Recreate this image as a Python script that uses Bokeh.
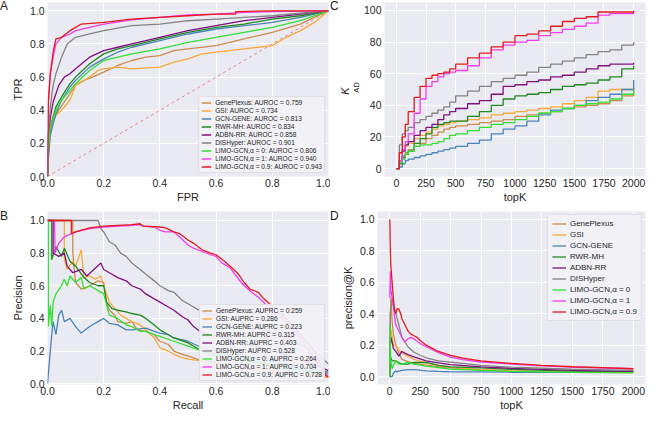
from bokeh.plotting import figure
from bokeh.layouts import column, row
from bokeh.models import FixedTicker, PrintfTickFormatter, Title, Div
from bokeh.embed import file_html
from bokeh.resources import INLINE

FONT = "Liberation Sans"
NBSP = "\u00a0"

methods = ["GenePlexus", "GSI", "GCN-GENE", "RWR-MH", "ADBN-RR", "DISHyper",
           "LIMO-GCN,α = 0", "LIMO-GCN,α = 1", "LIMO-GCN,α = 0.9"]
colors = ["#cd8a4c", "#f7a93a", "#4a84b8", "#1f8a1f", "#80107f", "#838383",
          "#33e033", "#f03cf0", "#e41a1c"]
auroc = ["0.759", "0.734", "0.813", "0.834", "0.858", "0.901", "0.806", "0.940", "0.943"]
auprc = ["0.259", "0.286", "0.223", "0.315", "0.403", "0.528", "0.264", "0.704", "0.728"]
panel_letters = ["A", "B", "C", "D"]

# ---------------- Panel A: ROC ----------------
roc_fpr_geneplexus = [0, 0.002, 0.01, 0.02, 0.04, 0.06, 0.08, 0.1, 0.13, 0.16, 0.2, 0.25, 0.3, 0.35, 0.4, 0.45, 0.5, 0.6, 0.7, 0.8, 0.9, 0.95, 1.0]
roc_tpr_geneplexus = [0, 0.15, 0.27, 0.34, 0.4, 0.45, 0.5, 0.55, 0.58, 0.6, 0.63, 0.67, 0.7, 0.72, 0.73, 0.76, 0.77, 0.79, 0.83, 0.87, 0.92, 0.96, 1.0]
roc_fpr_gsi = [0, 0.002, 0.01, 0.03, 0.05, 0.08, 0.1, 0.12, 0.15, 0.18, 0.2, 0.25, 0.3, 0.4, 0.45, 0.5, 0.55, 0.6, 0.7, 0.8, 0.85, 0.9, 0.95, 1.0]
roc_tpr_gsi = [0, 0.2, 0.3, 0.37, 0.4, 0.46, 0.55, 0.57, 0.6, 0.64, 0.65, 0.66, 0.65, 0.66, 0.69, 0.71, 0.74, 0.75, 0.77, 0.79, 0.84, 0.88, 0.93, 1.0]
roc_fpr_gcngene = [0, 0.003, 0.01, 0.03, 0.05, 0.08, 0.1, 0.15, 0.2, 0.25, 0.3, 0.4, 0.5, 0.6, 0.7, 0.8, 0.9, 1.0]
roc_tpr_gcngene = [0, 0.1, 0.25, 0.38, 0.46, 0.54, 0.58, 0.66, 0.71, 0.75, 0.78, 0.82, 0.86, 0.89, 0.91, 0.93, 0.96, 1.0]
roc_fpr_rwrmh = [0, 0.003, 0.01, 0.03, 0.05, 0.08, 0.1, 0.15, 0.2, 0.25, 0.3, 0.4, 0.5, 0.6, 0.7, 0.8, 0.9, 1.0]
roc_tpr_rwrmh = [0, 0.15, 0.3, 0.42, 0.48, 0.56, 0.6, 0.68, 0.74, 0.77, 0.79, 0.83, 0.87, 0.9, 0.92, 0.95, 0.97, 1.0]
roc_fpr_adbnrr = [0, 0.003, 0.01, 0.02, 0.04, 0.06, 0.08, 0.1, 0.15, 0.2, 0.25, 0.3, 0.4, 0.5, 0.6, 0.7, 0.8, 0.9, 1.0]
roc_tpr_adbnrr = [0, 0.25, 0.35, 0.45, 0.55, 0.6, 0.62, 0.65, 0.72, 0.76, 0.78, 0.8, 0.84, 0.88, 0.91, 0.94, 0.96, 0.98, 1.0]
roc_fpr_dishyper = [0, 0.003, 0.01, 0.02, 0.03, 0.05, 0.07, 0.1, 0.15, 0.2, 0.3, 0.4, 0.5, 0.6, 0.7, 0.8, 0.9, 1.0]
roc_tpr_dishyper = [0, 0.25, 0.42, 0.55, 0.62, 0.72, 0.8, 0.84, 0.86, 0.88, 0.91, 0.92, 0.94, 0.95, 0.96, 0.97, 0.985, 1.0]
roc_fpr_limo0 = [0, 0.003, 0.01, 0.03, 0.05, 0.08, 0.1, 0.15, 0.2, 0.25, 0.3, 0.4, 0.5, 0.6, 0.7, 0.8, 0.9, 1.0]
roc_tpr_limo0 = [0, 0.15, 0.3, 0.4, 0.46, 0.52, 0.56, 0.64, 0.7, 0.72, 0.74, 0.77, 0.81, 0.84, 0.87, 0.9, 0.94, 1.0]
roc_fpr_limo1 = [0, 0.003, 0.01, 0.02, 0.03, 0.05, 0.08, 0.1, 0.15, 0.2, 0.3, 0.4, 0.5, 0.6, 0.7, 0.8, 1.0]
roc_tpr_limo1 = [0, 0.45, 0.62, 0.72, 0.8, 0.84, 0.86, 0.88, 0.9, 0.92, 0.945, 0.96, 0.975, 0.98, 0.99, 0.995, 1.0]
roc_fpr_limo09 = [0, 0.003, 0.01, 0.02, 0.03, 0.05, 0.08, 0.1, 0.12, 0.2, 0.3, 0.4, 0.5, 0.6, 0.67, 0.67, 0.8, 1.0]
roc_tpr_limo09 = [0, 0.45, 0.62, 0.75, 0.83, 0.84, 0.88, 0.9, 0.92, 0.93, 0.95, 0.96, 0.97, 0.98, 0.98, 0.995, 1.0, 1.0]
chance_line = [0.0, 1.0]

# ---------------- Panel B: precision-recall ----------------
pr_rec_geneplexus = [0, 0.09, 0.09, 0.1, 0.12, 0.15, 0.18, 0.2, 0.21, 0.22, 0.24, 0.25, 0.28, 0.3, 0.32, 0.35, 0.38, 0.4, 0.43, 0.45, 0.48, 0.5, 0.55, 0.57, 0.7, 0.85, 1.0]
pr_pre_geneplexus = [1, 1, 0.8, 0.62, 0.58, 0.6, 0.63, 0.62, 0.5, 0.45, 0.42, 0.38, 0.37, 0.38, 0.33, 0.32, 0.3, 0.26, 0.24, 0.2, 0.18, 0.17, 0.14, 0.14, 0.1, 0.07, 0.04]
pr_rec_gsi = [0, 0.06, 0.06, 0.07, 0.09, 0.1, 0.12, 0.13, 0.15, 0.17, 0.19, 0.2, 0.22, 0.24, 0.26, 0.28, 0.3, 0.33, 0.35, 0.38, 0.4, 0.43, 0.45, 0.48, 0.5, 0.55, 0.57, 0.7, 0.85, 1.0]
pr_pre_gsi = [1, 1, 0.76, 0.7, 0.75, 0.72, 0.82, 0.65, 0.66, 0.64, 0.66, 0.6, 0.5, 0.46, 0.42, 0.4, 0.38, 0.36, 0.33, 0.28, 0.22, 0.2, 0.18, 0.16, 0.15, 0.14, 0.13, 0.1, 0.07, 0.04]
pr_rec_gcngene = [0, 0.005, 0.015, 0.02, 0.03, 0.04, 0.05, 0.06, 0.08, 0.1, 0.12, 0.15, 0.18, 0.2, 0.22, 0.25, 0.28, 0.3, 0.35, 0.38, 0.4, 0.43, 0.45, 0.5, 0.55, 0.57, 0.7, 0.85, 1.0]
pr_pre_gcngene = [0, 0.1, 0.3, 0.38, 0.3, 0.42, 0.45, 0.38, 0.4, 0.35, 0.31, 0.35, 0.38, 0.4, 0.37, 0.36, 0.33, 0.33, 0.34, 0.32, 0.31, 0.3, 0.28, 0.26, 0.22, 0.21, 0.17, 0.12, 0.07]
pr_rec_rwrmh = [0, 0.015, 0.015, 0.03, 0.05, 0.06, 0.08, 0.1, 0.13, 0.15, 0.18, 0.2, 0.21, 0.23, 0.25, 0.28, 0.3, 0.33, 0.35, 0.38, 0.4, 0.43, 0.45, 0.5, 0.53, 0.55, 0.57, 0.7, 0.85, 1.0]
pr_pre_rwrmh = [1, 1, 0.76, 0.84, 0.78, 0.83, 0.75, 0.72, 0.65, 0.62, 0.6, 0.6, 0.5, 0.46, 0.45, 0.44, 0.43, 0.42, 0.4, 0.36, 0.33, 0.3, 0.28, 0.25, 0.22, 0.2, 0.19, 0.15, 0.1, 0.06]
pr_rec_adbnrr = [0, 0.02, 0.02, 0.04, 0.06, 0.07, 0.09, 0.12, 0.14, 0.19, 0.2, 0.22, 0.25, 0.28, 0.3, 0.33, 0.35, 0.38, 0.4, 0.43, 0.45, 0.48, 0.5, 0.52, 0.55, 0.58, 0.7, 0.8, 0.9, 1.0]
pr_pre_adbnrr = [1, 1, 0.8, 0.78, 0.8, 0.72, 0.68, 0.7, 0.66, 0.74, 0.7, 0.68, 0.65, 0.63, 0.6, 0.58, 0.55, 0.52, 0.5, 0.47, 0.45, 0.41, 0.39, 0.35, 0.31, 0.3, 0.25, 0.2, 0.15, 0.08]
pr_rec_dishyper = [0, 0.18, 0.19, 0.2, 0.21, 0.22, 0.24, 0.26, 0.28, 0.3, 0.33, 0.35, 0.38, 0.4, 0.43, 0.45, 0.48, 0.5, 0.53, 0.55, 0.57, 0.65, 0.75, 0.85, 0.95, 1.0]
pr_pre_dishyper = [1, 1, 0.95, 0.93, 0.9, 0.87, 0.85, 0.8, 0.78, 0.74, 0.7, 0.67, 0.63, 0.6, 0.57, 0.56, 0.51, 0.49, 0.46, 0.44, 0.43, 0.4, 0.34, 0.28, 0.2, 0.12]
pr_rec_limo0 = [0, 0.003, 0.003, 0.01, 0.015, 0.02, 0.03, 0.05, 0.06, 0.07, 0.08, 0.1, 0.12, 0.13, 0.15, 0.18, 0.2, 0.22, 0.25, 0.28, 0.3, 0.33, 0.35, 0.38, 0.4, 0.45, 0.5, 0.55, 0.57, 0.7, 0.85, 1.0]
pr_pre_limo0 = [1, 1, 0.35, 0.48, 0.35, 0.5, 0.55, 0.6, 0.64, 0.6, 0.66, 0.62, 0.65, 0.58, 0.6, 0.57, 0.55, 0.42, 0.4, 0.36, 0.35, 0.32, 0.32, 0.3, 0.29, 0.26, 0.23, 0.2, 0.18, 0.14, 0.1, 0.06]
pr_rec_limo1 = [0, 0.025, 0.027, 0.04, 0.06, 0.1, 0.15, 0.2, 0.3, 0.33, 0.34, 0.38, 0.4, 0.42, 0.45, 0.47, 0.5, 0.52, 0.55, 0.58, 0.6, 0.62, 0.65, 0.68, 0.7, 0.72, 0.75, 0.78, 0.85, 0.9, 0.95, 1.0]
pr_pre_limo1 = [1, 1, 0.8, 0.86, 0.9, 0.93, 0.95, 0.96, 0.97, 0.975, 0.965, 0.96, 0.94, 0.93, 0.93, 0.9, 0.85, 0.83, 0.81, 0.79, 0.78, 0.74, 0.71, 0.64, 0.6, 0.57, 0.53, 0.48, 0.38, 0.28, 0.15, 0.04]
pr_rec_limo09 = [0, 0.085, 0.085, 0.1, 0.15, 0.2, 0.3, 0.33, 0.34, 0.4, 0.42, 0.45, 0.47, 0.5, 0.52, 0.55, 0.58, 0.6, 0.63, 0.65, 0.68, 0.7, 0.72, 0.75, 0.77, 0.79, 0.85, 0.9, 0.95, 0.99, 1.0]
pr_pre_limo09 = [1, 1, 0.92, 0.93, 0.955, 0.965, 0.975, 0.98, 0.965, 0.96, 0.955, 0.93, 0.92, 0.88, 0.86, 0.82, 0.8, 0.79, 0.75, 0.72, 0.67, 0.62, 0.58, 0.56, 0.52, 0.49, 0.4, 0.3, 0.2, 0.05, 0.04]

# ---------------- Panel C: K_AD vs topK ----------------
topk = [0, 25, 50, 75, 100, 150, 200, 250, 300, 350, 400, 450, 500, 600, 700, 800, 900, 1000, 1100, 1200, 1300, 1400, 1500, 1600, 1700, 1800, 1900, 2000]
kad_geneplexus = [0, 5, 8, 10, 12, 14, 16, 19, 21, 23, 25, 26, 27, 28, 29, 30, 31, 33, 34, 35, 36, 38, 39, 40, 41, 43, 46, 51]
kad_gsi = [0, 10, 12, 14, 16, 19, 21, 23, 25, 27, 28, 29, 30, 31, 32, 34, 35, 36, 37, 38, 39, 41, 43, 45, 49, 50, 50, 50]
kad_gcngene = [0, 1, 3, 5, 6, 7, 8, 9, 10, 11, 12, 13, 14, 16, 18, 22, 25, 27, 30, 34, 37, 38, 40, 43, 45, 47, 50, 56]
kad_rwrmh = [0, 3, 7, 9, 11, 16, 19, 22, 26, 28, 29, 30, 30, 33, 36, 40, 44, 46, 47, 48, 50, 52, 53, 54, 56, 58, 63, 65]
kad_adbnrr = [0, 5, 11, 15, 17, 21, 24, 26, 28, 31, 34, 36, 38, 41, 43, 47, 52, 53, 55, 56, 58, 59, 61, 63, 65, 66, 66, 67]
kad_dishyper = [0, 15, 22, 24, 26, 29, 31, 33, 35, 37, 39, 42, 46, 49, 52, 55, 57, 59, 61, 64, 66, 68, 70, 72, 74, 75, 78, 80]
kad_limo0 = [0, 4, 6, 9, 11, 14, 15, 15, 16, 17, 19, 21, 22, 24, 26, 28, 29, 31, 33, 35, 36, 38, 40, 41, 42, 44, 47, 50]
kad_limo1 = [0, 5, 12, 17, 22, 35, 44, 52, 55, 58, 60, 61, 62, 65, 70, 75, 78, 80, 81, 84, 86, 88, 90, 92, 97, 98, 98, 99]
kad_limo09 = [0, 10, 20, 28, 36, 45, 52, 57, 59, 60, 61, 63, 66, 70, 73, 77, 80, 84, 85, 87, 90, 93, 95, 96, 99, 99, 99, 100]

# ---------------- Panel D: precision@K ----------------
pk_k_geneplexus = [1, 5, 10, 20, 30, 50, 75, 100, 150, 200, 300, 400, 500, 750, 1000, 1500, 2000]
pk_geneplexus = [0.0, 0.4, 0.5, 0.35, 0.27, 0.2, 0.15, 0.11, 0.095, 0.085, 0.073, 0.063, 0.056, 0.043, 0.035, 0.027, 0.025]
pk_k_gsi = [1, 5, 10, 20, 30, 50, 75, 100, 150, 200, 300, 400, 500, 750, 1000, 1500, 2000]
pk_gsi = [0.0, 0.2, 0.3, 0.25, 0.2, 0.2, 0.17, 0.15, 0.13, 0.11, 0.087, 0.072, 0.06, 0.045, 0.037, 0.029, 0.025]
pk_k_gcngene = [1, 10, 20, 30, 40, 50, 60, 75, 100, 150, 200, 300, 400, 500, 750, 1000, 1500, 2000]
pk_gcngene = [0.0, 0.0, 0.0, 0.02, 0.03, 0.035, 0.03, 0.035, 0.04, 0.045, 0.045, 0.037, 0.033, 0.03, 0.03, 0.028, 0.027, 0.028]
pk_k_rwrmh = [1, 5, 10, 20, 30, 50, 75, 100, 150, 200, 300, 400, 500, 750, 1000, 1500, 2000]
pk_rwrmh = [0.0, 0.1, 0.12, 0.1, 0.1, 0.1, 0.09, 0.08, 0.08, 0.09, 0.09, 0.072, 0.062, 0.056, 0.046, 0.035, 0.033]
pk_k_adbnrr = [1, 5, 10, 20, 30, 50, 75, 100, 150, 200, 300, 400, 500, 750, 1000, 1500, 2000]
pk_adbnrr = [0.0, 0.2, 0.25, 0.22, 0.18, 0.16, 0.13, 0.16, 0.14, 0.125, 0.1, 0.088, 0.076, 0.062, 0.053, 0.04, 0.034]
pk_k_dishyper = [1, 5, 10, 20, 30, 50, 75, 100, 150, 200, 250, 300, 400, 500, 750, 1000, 1500, 2000]
pk_dishyper = [0.0, 0.4, 0.45, 0.5, 0.45, 0.4, 0.33, 0.25, 0.19, 0.155, 0.136, 0.12, 0.1, 0.092, 0.072, 0.06, 0.047, 0.04]
pk_k_limo0 = [1, 3, 5, 10, 20, 30, 50, 75, 100, 150, 200, 300, 500, 750, 1000, 1500, 2000]
pk_limo0 = [0.0, 0.33, 0.2, 0.1, 0.05, 0.07, 0.1, 0.08, 0.08, 0.09, 0.08, 0.067, 0.048, 0.04, 0.033, 0.027, 0.025]
pk_k_limo1 = [1, 5, 10, 20, 30, 40, 50, 75, 100, 125, 150, 175, 200, 250, 300, 400, 500, 600, 750, 1000, 1250, 1500, 1750, 2000]
pk_limo1 = [0.5, 0.67, 0.55, 0.5, 0.45, 0.38, 0.33, 0.29, 0.25, 0.22, 0.24, 0.25, 0.24, 0.21, 0.19, 0.153, 0.124, 0.108, 0.093, 0.08, 0.069, 0.06, 0.055, 0.05]
pk_k_limo09 = [1, 5, 10, 20, 30, 40, 50, 60, 75, 90, 100, 125, 150, 175, 200, 225, 250, 300, 400, 500, 600, 750, 1000, 1250, 1500, 1750, 2000]
pk_limo09 = [1.0, 0.8, 0.7, 0.6, 0.5, 0.42, 0.4, 0.43, 0.43, 0.4, 0.37, 0.33, 0.29, 0.27, 0.26, 0.25, 0.23, 0.2, 0.16, 0.135, 0.118, 0.1, 0.084, 0.072, 0.063, 0.057, 0.05]

unit_ticks = [0.0, 0.2, 0.4, 0.6, 0.8, 1.0]
topk_ticks = [0, 250, 500, 750, 1000, 1250, 1500, 1750, 2000]
kad_ticks = [0, 20, 40, 60, 80, 100]

roc_x = [roc_fpr_geneplexus, roc_fpr_gsi, roc_fpr_gcngene, roc_fpr_rwrmh, roc_fpr_adbnrr,
         roc_fpr_dishyper, roc_fpr_limo0, roc_fpr_limo1, roc_fpr_limo09]
roc_y = [roc_tpr_geneplexus, roc_tpr_gsi, roc_tpr_gcngene, roc_tpr_rwrmh, roc_tpr_adbnrr,
         roc_tpr_dishyper, roc_tpr_limo0, roc_tpr_limo1, roc_tpr_limo09]
pr_x = [pr_rec_geneplexus, pr_rec_gsi, pr_rec_gcngene, pr_rec_rwrmh, pr_rec_adbnrr,
        pr_rec_dishyper, pr_rec_limo0, pr_rec_limo1, pr_rec_limo09]
pr_y = [pr_pre_geneplexus, pr_pre_gsi, pr_pre_gcngene, pr_pre_rwrmh, pr_pre_adbnrr,
        pr_pre_dishyper, pr_pre_limo0, pr_pre_limo1, pr_pre_limo09]
kad_y = [kad_geneplexus, kad_gsi, kad_gcngene, kad_rwrmh, kad_adbnrr, kad_dishyper,
         kad_limo0, kad_limo1, kad_limo09]
pk_x = [pk_k_geneplexus, pk_k_gsi, pk_k_gcngene, pk_k_rwrmh, pk_k_adbnrr, pk_k_dishyper,
        pk_k_limo0, pk_k_limo1, pk_k_limo09]
pk_y = [pk_geneplexus, pk_gsi, pk_gcngene, pk_rwrmh, pk_adbnrr, pk_dishyper,
        pk_limo0, pk_limo1, pk_limo09]

LW = 1.3


def make_fig(w, h, xr, yr, xt, yt, xlabel, ylabel, bl, br, bt, bb, xfmt=None, yfmt=None):
    p = figure(width=w, height=h, x_range=xr, y_range=yr, output_backend="svg",
               toolbar_location=None, min_border_left=bl, min_border_right=br,
               min_border_top=bt, min_border_bottom=bb)
    p.background_fill_color = "#eaeaf2"
    p.border_fill_color = "white"
    p.outline_line_color = None
    p.xaxis.ticker = FixedTicker(ticks=xt)
    p.yaxis.ticker = FixedTicker(ticks=yt)
    if xfmt:
        p.xaxis.formatter = PrintfTickFormatter(format=xfmt)
    if yfmt:
        p.yaxis.formatter = PrintfTickFormatter(format=yfmt)
    p.xaxis.axis_label = xlabel
    if ylabel:
        p.yaxis.axis_label = ylabel
    for ax in p.xaxis + p.yaxis:
        ax.axis_line_color = None
        ax.major_tick_line_color = None
        ax.minor_tick_line_color = None
        ax.major_tick_out = 0
        ax.major_tick_in = 0
        ax.minor_tick_out = 0
        ax.minor_tick_in = 0
        ax.major_label_text_font = FONT
        ax.major_label_text_font_size = "10.5px"
        ax.major_label_text_color = "#262626"
        ax.major_label_standoff = 3
        ax.axis_label_text_font = FONT
        ax.axis_label_text_font_size = "11px"
        ax.axis_label_text_font_style = "normal"
        ax.axis_label_text_color = "#262626"
        ax.axis_label_standoff = 3
    for ax in p.xaxis:
        ax.major_label_standoff = 2
        ax.axis_label_standoff = 1
    p.xgrid.grid_line_color = "white"
    p.ygrid.grid_line_color = "white"
    p.xgrid.grid_line_width = 1.1
    p.ygrid.grid_line_width = 1.1
    return p


def letter_div(txt, w, h, top):
    return Div(text=txt, width=w, height=h - top, margin=(0, 0, 0, 0),
               styles={"font-family": FONT, "font-size": "12px", "color": "#222222",
                       "padding-top": f"{top}px", "line-height": "12px"})


def style_legend(p, loc, fsize, lh, gw, sp, pad):
    lg = p.legend[0]
    lg.location = loc
    lg.label_text_font = FONT
    lg.label_text_font_size = fsize
    lg.label_text_color = "#262626"
    lg.label_height = lh
    lg.glyph_height = lh
    lg.glyph_width = gw
    lg.label_standoff = 4
    lg.spacing = sp
    lg.padding = pad
    lg.margin = 3
    lg.background_fill_color = "#f1f1f6"
    lg.background_fill_alpha = 0.92
    lg.border_line_color = "#cfcfcf"
    lg.border_line_width = 1


DL, WL, DR, WR = 8, 322, 8, 311
HT, HB = 205, 208

# Panel A
pA = make_fig(WL, HT, (0, 1), (0, 1.05), unit_ticks, unit_ticks, "FPR", "TPR", 30, 2, 2, 22, "%.1f", "%.1f")
pA.line(chance_line, chance_line, line_color="#e58a8a", line_dash="3 3", line_width=1)
for i in range(len(methods)):
    pA.line(roc_x[i], roc_y[i], line_color=colors[i], line_width=LW,
            legend_label=f"{methods[i]}: AUROC = {auroc[i]}")
style_legend(pA, "bottom_right", "6.6px", 7, 10, 1, 2)

# Panel B
pB = make_fig(WL, HB, (0, 1), (-0.005, 1.055), unit_ticks, unit_ticks, "Recall", "Precision", 30, 2, 6, 22, "%.1f", "%.1f")
for i in range(len(methods)):
    pB.line(pr_x[i], pr_y[i], line_color=colors[i], line_width=LW,
            legend_label=f"{methods[i]}: AUPRC = {auprc[i]}")
style_legend(pB, "bottom_right", "6.6px", 7, 10, 1, 2)

# Panel C
pC = make_fig(WR, HT, (-100, 2100), (-5, 105), topk_ticks, kad_ticks, "topK", "", 30, 4, 2, 22)
for i in range(len(methods)):
    pC.step(topk, kad_y[i], mode="after", line_color=colors[i], line_width=LW)
pC.add_layout(Title(text=NBSP * 2 + "AD", align="center", standoff=0, text_font=FONT,
                    text_font_size="7.5px", text_font_style="normal",
                    text_color="#262626"), "left")
pC.add_layout(Title(text="K" + NBSP, align="center", standoff=-3, text_font=FONT,
                    text_font_size="11px", text_font_style="italic",
                    text_color="#262626"), "left")

# Panel D
pD = make_fig(WR, HB, (-100, 2100), (-0.05, 1.05), topk_ticks, unit_ticks, "topK", "precision@K", 30, 4, 6, 22, None, "%.1f")
for i in range(len(methods)):
    pD.line(pk_x[i], pk_y[i], line_color=colors[i], line_width=LW, legend_label=methods[i])
style_legend(pD, "top_right", "8px", 9, 14, 2, 4)

top_row = row(letter_div(panel_letters[0], DL, HT, 0), pA,
              letter_div(panel_letters[2], DR, HT, 0), pC)
bottom_row = row(letter_div(panel_letters[1], DL, HB, 5), pB,
                 letter_div(panel_letters[3], DR, HB, 5), pD)
layout = column(top_row, bottom_row)
open("out.html", "w").write(file_html(layout, INLINE))
